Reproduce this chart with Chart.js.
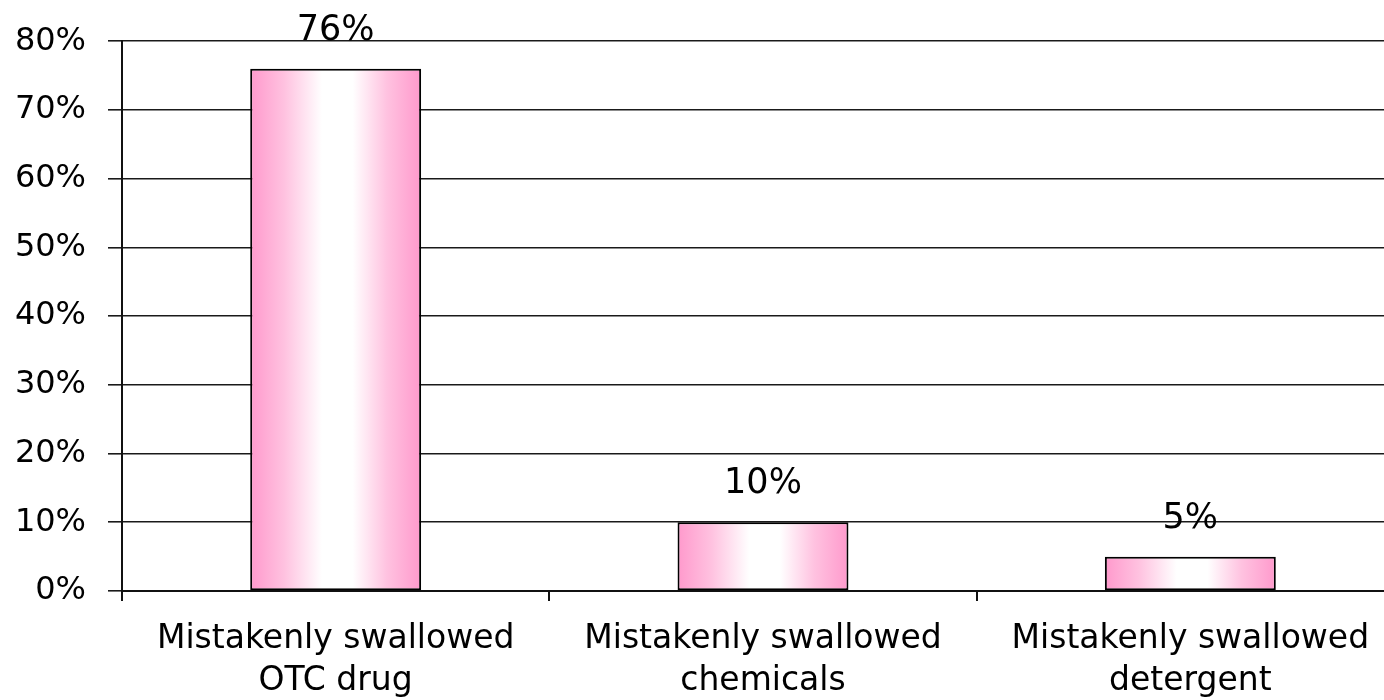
<!DOCTYPE html>
<html>
<head>
<meta charset="utf-8">
<script src="https://cdn.jsdelivr.net/npm/chart.js@4.4.0/dist/chart.umd.min.js"></script>
<style>
  html, body { margin: 0; padding: 0; background: #fff; overflow: hidden; }
  #wrap { width: 1384px; height: 700px; overflow: hidden; }
</style>
</head>
<body>
<div id="wrap"><canvas id="chart" width="1404" height="700"></canvas></div>
<script>
// chart data
const categories = [
  ['Mistakenly swallowed', 'OTC drug'],
  ['Mistakenly swallowed', 'chemicals'],
  ['Mistakenly swallowed', 'detergent']
];
const shares = [76, 10, 5];
const yTicks = [0, 10, 20, 30, 40, 50, 60, 70, 80];

const FONT = '"DejaVu Sans", sans-serif';
const PINK = '#ff99cc';

// horizontal pink-white-pink fill for each bar
function barFill(ctx) {
  const chart = ctx.chart;
  const xs = chart.scales.x;
  if (!chart.chartArea || !xs || ctx.dataIndex === undefined) return PINK;
  const cx = xs.getPixelForValue(ctx.dataIndex);
  const half = (xs.width / categories.length) * 0.4 / 2;
  const g = chart.ctx.createLinearGradient(cx - half, 0, cx + half, 0);
  g.addColorStop(0, PINK);
  g.addColorStop(0.2, '#ffc2e0');
  g.addColorStop(0.42, '#ffffff');
  g.addColorStop(0.6, '#ffffff');
  g.addColorStop(0.8, '#ffc2e0');
  g.addColorStop(1, PINK);
  return g;
}

const valueLabels = {
  id: 'valueLabels',
  afterDatasetsDraw(chart) {
    const c = chart.ctx;
    const meta = chart.getDatasetMeta(0);
    c.save();
    c.font = '35px ' + FONT;
    c.fillStyle = '#000';
    c.textAlign = 'center';
    c.textBaseline = 'middle';
    meta.data.forEach((bar, i) => {
      c.fillText(shares[i] + '%', bar.x, bar.y - 38);
    });
    c.restore();
  }
};

new Chart(document.getElementById('chart'), {
  type: 'bar',
  data: {
    labels: categories,
    datasets: [{
      data: shares,
      backgroundColor: barFill,
      borderColor: '#000',
      borderWidth: 2,
      borderSkipped: false,
      barPercentage: 1,
      categoryPercentage: 0.4
    }]
  },
  options: {
    responsive: false,
    animation: false,
    layout: { padding: { top: 41, right: 0, left: 0, bottom: 0 } },
    plugins: { legend: { display: false }, tooltip: { enabled: false } },
    scales: {
      x: {
        grid: { drawOnChartArea: false, color: '#111', lineWidth: 2, tickLength: 10, offset: true },
        border: { color: '#111', width: 2 },
        ticks: { color: '#000', font: { family: FONT, size: 33, lineHeight: 1.28 }, padding: 17, maxRotation: 0 },
        afterFit(scale) { scale.height = 109; }
      },
      y: {
        min: 0,
        max: 80,
        afterBuildTicks(scale) { scale.ticks = yTicks.map(v => ({ value: v })); },
        grid: { color: '#1a1a1a', lineWidth: 1.6, tickLength: 14 },
        border: { color: '#111', width: 2 },
        ticks: { color: '#000', font: { family: FONT, size: 32 }, padding: 22, callback: v => v + '%' },
        afterFit(scale) { scale.width = 122; }
      }
    }
  },
  plugins: [valueLabels]
});
</script>
</body>
</html>
